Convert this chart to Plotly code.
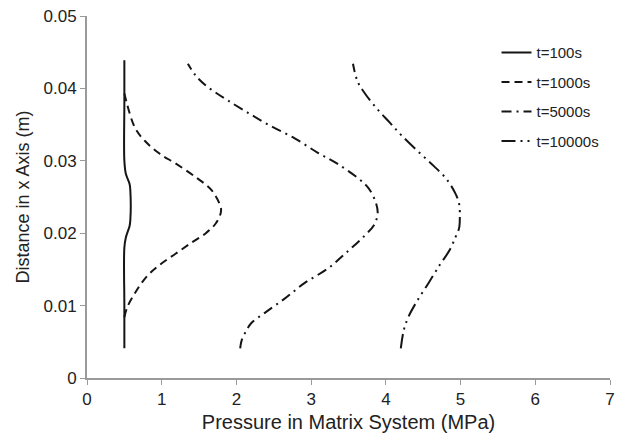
import plotly.graph_objects as go

# t=100s
p100 = [0.5, 0.5, 0.5, 0.52, 0.57, 0.58, 0.58, 0.57, 0.52, 0.5, 0.5, 0.5]
y100 = [0.0041, 0.010, 0.0180, 0.0194, 0.0210, 0.0218, 0.0259, 0.0268, 0.0282, 0.030, 0.038, 0.0439]

# t=1000s
p1000 = [0.50, 0.54, 0.64, 0.79, 0.97, 1.19, 1.40, 1.59, 1.72, 1.79, 1.79, 1.67, 1.46, 1.19, 0.97, 0.77, 0.64, 0.50]
y1000 = [0.0084, 0.0098, 0.0117, 0.0139, 0.0156, 0.0172, 0.0187, 0.0200, 0.0213, 0.0228, 0.0236, 0.0259, 0.0277, 0.0296, 0.0310, 0.0328, 0.0346, 0.0393]

# t=5000s
p5000 = [2.05, 2.07, 2.12, 2.20, 2.38, 2.65, 2.91, 3.22, 3.48, 3.72, 3.84, 3.89, 3.87, 3.77, 3.64, 3.35, 3.09, 2.78, 2.46, 2.16, 1.89, 1.74, 1.59, 1.46, 1.35]
y5000 = [0.0041, 0.0052, 0.0063, 0.0076, 0.0090, 0.0110, 0.0131, 0.0151, 0.0174, 0.0197, 0.0211, 0.0227, 0.0241, 0.0262, 0.0275, 0.0296, 0.0311, 0.0331, 0.0348, 0.0366, 0.0383, 0.0393, 0.0404, 0.0417, 0.0434]

# t=10000s
p10000 = [4.20, 4.24, 4.30, 4.41, 4.57, 4.72, 4.85, 4.93, 4.98, 4.99, 4.98, 4.93, 4.81, 4.64, 4.45, 4.21, 4.05, 3.88, 3.72, 3.62, 3.56]
y10000 = [0.0041, 0.0066, 0.0084, 0.0105, 0.0131, 0.0156, 0.0176, 0.0194, 0.0207, 0.0222, 0.0241, 0.0255, 0.0275, 0.0293, 0.0311, 0.0335, 0.0353, 0.0372, 0.0393, 0.0410, 0.0434]

names = ["t=100s", "t=1000s", "t=5000s", "t=10000s"]
dashes = ["solid", "8px,5px", "10px,5px,2px,5px", "14px,5px,2px,5px,2px,5px"]

fig = go.Figure()
for i, (px, py) in enumerate([(p100, y100), (p1000, y1000), (p5000, y5000), (p10000, y10000)]):
    fig.add_trace(go.Scatter(
        x=px, y=py, mode="lines", name=names[i], legendgroup=names[i],
        line=dict(color="#151515", width=2, dash=dashes[i], shape="spline", smoothing=1.0),
    ))

font_family = "Liberation Sans, Arial, sans-serif"
fig.update_layout(
    width=622, height=439,
    margin=dict(l=87, r=7, t=15, b=61),
    paper_bgcolor="white", plot_bgcolor="white",
    font=dict(family=font_family, color="#222222"),
    legend=dict(x=0.783, y=0.944, xanchor="left", yanchor="top",
                traceorder="grouped", tracegroupgap=7,
                font=dict(size=15, color="#222222"), bgcolor="rgba(0,0,0,0)"),
    xaxis=dict(range=[0, 7], dtick=1, showgrid=False, zeroline=False,
               showline=True, linecolor="#9a9a9a", linewidth=2,
               ticks="outside", ticklen=5, tickcolor="#9a9a9a",
               tickfont=dict(size=17),
               title=dict(text="Pressure in Matrix System (MPa)", font=dict(size=20), standoff=7)),
    yaxis=dict(range=[0, 0.05], dtick=0.01, showgrid=False, zeroline=False,
               showline=True, linecolor="#9a9a9a", linewidth=2,
               ticks="outside", ticklen=5, tickcolor="#9a9a9a",
               tickfont=dict(size=17),
               title=dict(text="Distance in x Axis (m)", font=dict(size=18), standoff=9)),
)

fig.write_html("out.html")
